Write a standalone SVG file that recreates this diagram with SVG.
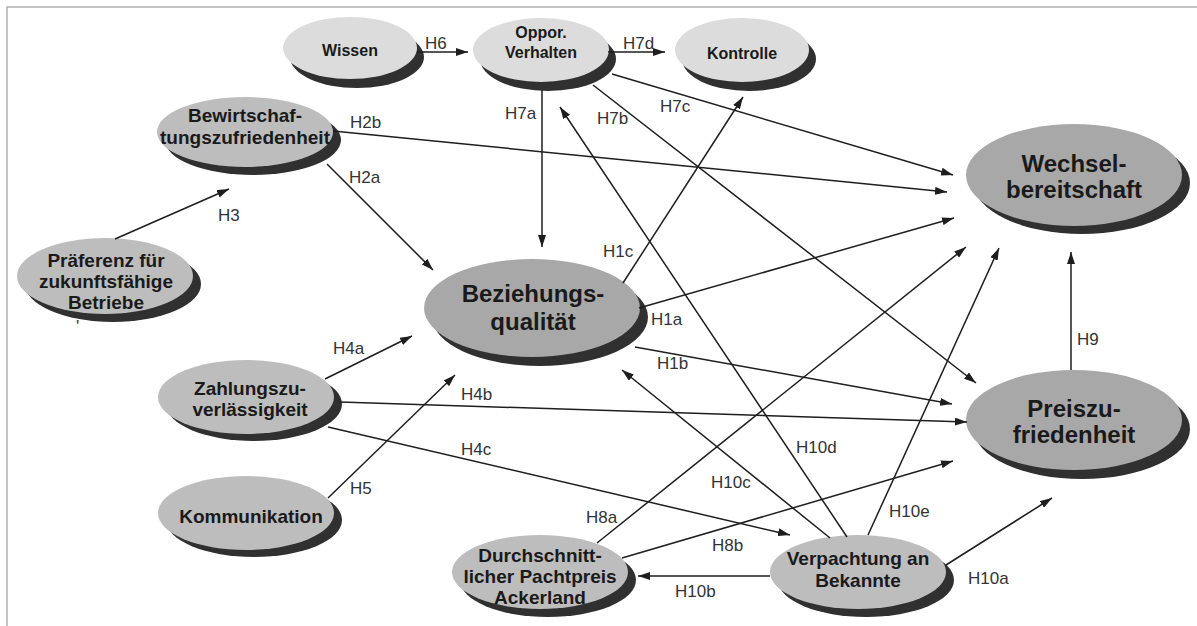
<svg xmlns="http://www.w3.org/2000/svg" width="1197" height="626" viewBox="0 0 1197 626">
<defs>
<marker id="arr" viewBox="0 0 12 8" refX="12" refY="4" markerWidth="12" markerHeight="8" orient="auto" markerUnits="userSpaceOnUse">
<path d="M0,0 L12,4 L0,8 z" fill="#1e1e1e"/>
</marker>
</defs>
<style>
.sh{fill:#303030}
.lt{fill:#dcdcdc}
.md{fill:#bdbdbd}
.dk{fill:#a8a8a8}
.nt{font-family:"Liberation Sans",Arial,sans-serif;font-weight:bold;fill:#1a1a1a;text-anchor:middle}
.s16{font-size:16px}
.s19{font-size:19px}
.s24{font-size:24px}
.lb{font-family:"Liberation Sans",Arial,sans-serif;font-size:17px;fill:#333}
.c line{stroke:#1e1e1e;stroke-width:1.5;marker-end:url(#arr)}
</style>
<rect width="1197" height="626" fill="#fff"/>
<path d="M7,626 L7,7 L1197,7" fill="none" stroke="#b0b0b0" stroke-width="1.5"/>

<g id="wissen">
<ellipse class="sh" cx="357" cy="57" rx="67" ry="31"/>
<ellipse class="lt" cx="350" cy="48" rx="67" ry="31"/>
<text class="nt s16" x="350" y="56">Wissen</text>
</g>
<g id="oppor">
<ellipse class="sh" cx="548" cy="59" rx="68" ry="32"/>
<ellipse class="lt" cx="541" cy="50" rx="68" ry="32"/>
<text class="nt s16" x="541" y="38">Oppor.</text>
<text class="nt s16" x="541" y="58">Verhalten</text>
</g>
<g id="kontrolle">
<ellipse class="sh" cx="749" cy="59" rx="67" ry="32"/>
<ellipse class="lt" cx="742" cy="50" rx="67" ry="32"/>
<text class="nt s16" x="742" y="59">Kontrolle</text>
</g>
<g id="bewirtschaftung">
<ellipse class="sh" cx="253" cy="140" rx="88" ry="35"/>
<ellipse class="md" cx="245" cy="132" rx="88" ry="35"/>
<text class="nt s19" x="245" y="122">Bewirtschaf-</text>
<text class="nt s19" x="245" y="144">tungszufriedenheit</text>
</g>
<g id="praeferenz">
<ellipse class="sh" cx="113" cy="284" rx="88" ry="38"/>
<ellipse class="md" cx="105" cy="276" rx="88" ry="38"/>
<text class="nt s19" x="106" y="267">Präferenz für</text>
<text class="nt s19" x="106" y="288">zukunftsfähige</text>
<text class="nt s19" x="106" y="309">Betriebe</text>
</g>
<text class="lb" x="76" y="332" font-size="10px">'</text>
<g id="beziehungsqualitaet">
<ellipse class="sh" cx="540" cy="317" rx="108" ry="49"/>
<ellipse class="dk" cx="532" cy="308" rx="108" ry="49"/>
<text class="nt s24" x="533" y="302">Beziehungs-</text>
<text class="nt s24" x="533" y="330">qualität</text>
</g>
<g id="wechselbereitschaft">
<ellipse class="sh" cx="1082" cy="183" rx="108" ry="51"/>
<ellipse class="dk" cx="1074" cy="175" rx="108" ry="51"/>
<text class="nt s24" x="1074" y="172">Wechsel-</text>
<text class="nt s24" x="1074" y="198">bereitschaft</text>
</g>
<g id="preiszufriedenheit">
<ellipse class="sh" cx="1082" cy="429" rx="108" ry="50"/>
<ellipse class="dk" cx="1074" cy="420" rx="108" ry="50"/>
<text class="nt s24" x="1074" y="417">Preiszu-</text>
<text class="nt s24" x="1074" y="443">friedenheit</text>
</g>
<g id="zahlungszuverlaessigkeit">
<ellipse class="sh" cx="254" cy="404" rx="88" ry="37"/>
<ellipse class="md" cx="246" cy="397" rx="88" ry="37"/>
<text class="nt s19" x="250" y="395">Zahlungszu-</text>
<text class="nt s19" x="250" y="416">verlässigkeit</text>
</g>
<g id="kommunikation">
<ellipse class="sh" cx="254" cy="520" rx="88" ry="37"/>
<ellipse class="md" cx="246" cy="513" rx="88" ry="37"/>
<text class="nt s19" x="251" y="523">Kommunikation</text>
</g>
<g id="pachtpreis">
<ellipse class="sh" cx="548" cy="580" rx="88" ry="37"/>
<ellipse class="md" cx="540" cy="572" rx="88" ry="37"/>
<text class="nt s19" x="540" y="562">Durchschnitt-</text>
<text class="nt s19" x="540" y="583">licher Pachtpreis</text>
<text class="nt s19" x="540" y="604">Ackerland</text>
</g>
<g id="verpachtung">
<ellipse class="sh" cx="866" cy="580" rx="88" ry="37"/>
<ellipse class="md" cx="858" cy="572" rx="88" ry="37"/>
<text class="nt s19" x="858" y="565">Verpachtung an</text>
<text class="nt s19" x="858" y="587">Bekannte</text>
</g>

<g id="connectors" class="c">
<line x1="417" y1="52" x2="468" y2="52"/>
<line x1="608" y1="52" x2="665" y2="52"/>
<line x1="542" y1="90" x2="542" y2="247"/>
<line x1="593" y1="85" x2="976" y2="383"/>
<line x1="612" y1="74" x2="953" y2="175"/>
<line x1="333" y1="131" x2="947" y2="192"/>
<line x1="327" y1="164" x2="433" y2="270"/>
<line x1="115" y1="239" x2="229" y2="189"/>
<line x1="623" y1="283" x2="743" y2="97"/>
<line x1="639" y1="308" x2="954" y2="218"/>
<line x1="635" y1="347" x2="952" y2="404"/>
<line x1="325" y1="379" x2="412" y2="336"/>
<line x1="340" y1="402" x2="967" y2="422"/>
<line x1="328" y1="427" x2="790" y2="535"/>
<line x1="328" y1="498" x2="455" y2="375"/>
<line x1="597" y1="543" x2="966" y2="247"/>
<line x1="622" y1="558" x2="953" y2="461"/>
<line x1="770" y1="576" x2="638" y2="576"/>
<line x1="830" y1="538" x2="622" y2="370"/>
<line x1="847" y1="537" x2="560" y2="107"/>
<line x1="868" y1="535" x2="999" y2="248"/>
<line x1="946" y1="565" x2="1052" y2="498"/>
<line x1="1071" y1="370" x2="1071" y2="252"/>
</g>

<g id="labels">
<text class="lb" x="425" y="49">H6</text>
<text class="lb" x="623" y="49">H7d</text>
<text class="lb" x="505" y="119">H7a</text>
<text class="lb" x="597" y="124">H7b</text>
<text class="lb" x="660" y="112">H7c</text>
<text class="lb" x="350" y="128">H2b</text>
<text class="lb" x="349" y="183">H2a</text>
<text class="lb" x="218" y="221">H3</text>
<text class="lb" x="603" y="257">H1c</text>
<text class="lb" x="651" y="325">H1a</text>
<text class="lb" x="657" y="369">H1b</text>
<text class="lb" x="333" y="354">H4a</text>
<text class="lb" x="461" y="400">H4b</text>
<text class="lb" x="461" y="455">H4c</text>
<text class="lb" x="350" y="494">H5</text>
<text class="lb" x="586" y="523">H8a</text>
<text class="lb" x="712" y="551">H8b</text>
<text class="lb" x="675" y="597">H10b</text>
<text class="lb" x="711" y="488">H10c</text>
<text class="lb" x="796" y="453">H10d</text>
<text class="lb" x="889" y="517">H10e</text>
<text class="lb" x="968" y="584">H10a</text>
<text class="lb" x="1077" y="345">H9</text>
</g>
</svg>
